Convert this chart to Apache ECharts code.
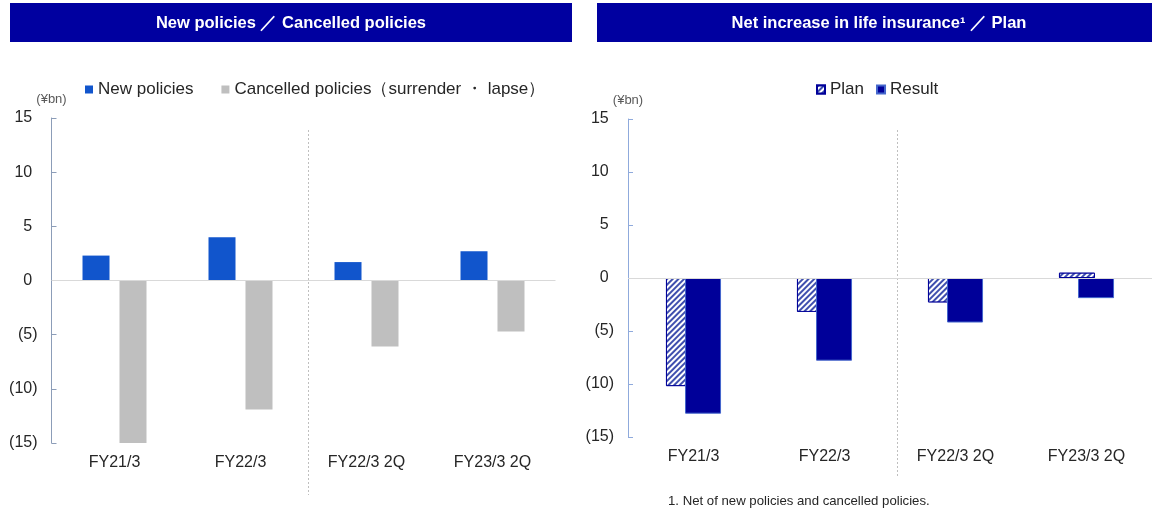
<!DOCTYPE html>
<html>
<head>
<meta charset="utf-8">
<title>New policies / Net increase in life insurance</title>
<script src="https://cdn.jsdelivr.net/npm/echarts@6/dist/echarts.min.js"></script>
<style>
  html, body { margin: 0; padding: 0; background: #ffffff; }
  #chart { width: 1152px; height: 510px; }
</style>
</head>
<body>
<div id="chart"></div>
<script>
// Fiscal periods shown on both panels
const categories = ['FY21/3', 'FY22/3', 'FY22/3 2Q', 'FY23/3 2Q'];

// Left panel (¥bn)
const newPolicies = [2.3, 4.0, 1.7, 2.7];
const cancelledPolicies = [-15.0, -11.9, -6.1, -4.7];

// Right panel (¥bn): net increase in life insurance vs plan
const planValues = [-10.2, -3.2, -2.3, 0.5];
const resultValues = [-12.8, -7.8, -4.2, -1.9];

// Value axis range and step
const yMin = -15;
const yMax = 15;
const yStep = 5;

const FONT = '"Liberation Sans", Arial, sans-serif';
const TEXT = '#262626';
const NAVY = '#000099';

const chart = echarts.init(document.getElementById('chart'), null, { renderer: 'canvas' });

// Accounting style: negatives in brackets, positives padded by an invisible ")"
const fmtAxis = v => (v < 0 ? '{n|(' + (-v) + ')}' : '{n|' + v + '}{pad|)}');

function valueAxis(gridIndex, axisColor) {
  return {
    type: 'value',
    gridIndex,
    min: yMin,
    max: yMax,
    interval: yStep,
    name: '(¥bn)',
    nameLocation: 'end',
    nameGap: 12,
    nameTextStyle: { color: '#595959', fontSize: 13, fontFamily: FONT, align: 'center' },
    axisLine: { show: true, lineStyle: { color: axisColor, width: 1 } },
    axisTick: { show: true, inside: true, length: 5, lineStyle: { color: axisColor } },
    splitLine: { show: false },
    axisLabel: {
      formatter: fmtAxis, margin: 14,
      rich: {
        n: { color: TEXT, fontSize: 16, fontFamily: FONT },
        pad: { color: 'rgba(0,0,0,0)', fontSize: 16, fontFamily: FONT }
      }
    }
  };
}

function categoryAxis(gridIndex) {
  return {
    type: 'category',
    gridIndex,
    data: categories,
    axisLine: { show: false },
    axisTick: { show: false },
    splitLine: { show: false },
    axisLabel: { color: TEXT, fontSize: 16, fontFamily: FONT, margin: 12, interval: 0 }
  };
}

// Light baseline at zero for each panel
const zeroLine = {
  silent: true,
  symbol: 'none',
  label: { show: false },
  lineStyle: { color: '#D9D9D9', type: 'solid', width: 1 },
  data: [{ yAxis: 0 }]
};

const hatch = {
  symbol: 'rect',
  symbolSize: 1,
  color: '#3F4FAE',
  backgroundColor: '#ffffff',
  dashArrayX: [1, 0],
  dashArrayY: [1.5, 2],
  rotation: -Math.PI / 4
};

function titleBar(id, x, width, cx, text) {
  return [
    { id: id + '-bg', type: 'rect', silent: true,
      shape: { x, y: 3, width, height: 39 },
      style: { fill: '#0000A0' } },
    { id: id + '-tx', type: 'text', silent: true,
      style: { text, x: cx, y: 23, align: 'center', verticalAlign: 'middle',
               fill: '#ffffff', font: 'bold 16.5px ' + FONT } }
  ];
}

chart.setOption({
  animation: false,
  backgroundColor: '#ffffff',
  textStyle: { fontFamily: FONT },
  grid: [
    { left: 51.5, right: 596.5, top: 118, bottom: 67 },
    { left: 628, right: -7, top: 119, bottom: 73 }
  ],
  xAxis: [categoryAxis(0), categoryAxis(1)],
  yAxis: [valueAxis(0, '#8C9DB8'), valueAxis(1, '#8FAADC')],
  legend: [
    {
      data: ['New policies', 'Cancelled policies（surrender ・ lapse）'],
      left: 80, top: 76,
      icon: 'rect', itemWidth: 8, itemHeight: 8, itemGap: 28,
      textStyle: { color: TEXT, fontSize: 17, fontFamily: FONT }
    },
    {
      data: ['Plan', 'Result'],
      left: 811, top: 76,
      icon: 'rect', itemWidth: 8, itemHeight: 8, itemGap: 12,
      textStyle: { color: TEXT, fontSize: 17, fontFamily: FONT }
    }
  ],
  series: [
    {
      name: 'New policies', type: 'bar', xAxisIndex: 0, yAxisIndex: 0,
      data: newPolicies, barWidth: 27, barGap: '37%',
      itemStyle: { color: '#1155CC' },
      markLine: zeroLine
    },
    {
      name: 'Cancelled policies（surrender ・ lapse）', type: 'bar', xAxisIndex: 0, yAxisIndex: 0,
      data: cancelledPolicies, barWidth: 27, barGap: '37%',
      itemStyle: { color: '#BFBFBF' }
    },
    {
      name: 'Plan', type: 'bar', xAxisIndex: 1, yAxisIndex: 1,
      data: planValues, barWidth: 36, barGap: '-47%',
      itemStyle: { color: '#ffffff', borderColor: NAVY, borderWidth: 1, decal: hatch },
      markLine: zeroLine
    },
    {
      name: 'Result', type: 'bar', xAxisIndex: 1, yAxisIndex: 1,
      data: resultValues, barWidth: 36, barGap: '-47%',
      itemStyle: { color: NAVY, borderColor: '#4466CC', borderWidth: 1 }
    }
  ],
  graphic: [
    ...titleBar('t1', 10, 562, 291, 'New policies ／ Cancelled policies'),
    ...titleBar('t2', 597, 570, 879, 'Net increase in life insurance¹ ／ Plan'),
    { id: 'note', type: 'text', silent: true,
      style: { text: '1. Net of new policies and cancelled policies.', x: 668, y: 501,
               verticalAlign: 'middle', fill: '#262626', font: '13.2px ' + FONT } }
  ]
});

// Dotted separator between the full-year and half-year periods
function separatorX(xAxisIndex, shift) {
  const a = chart.convertToPixel({ xAxisIndex }, categories[1]);
  const b = chart.convertToPixel({ xAxisIndex }, categories[2]);
  return Math.round((a + b) / 2 + shift) + 0.5;
}

const s1 = separatorX(0, 4);
const s2 = separatorX(1, 7);
chart.setOption({
  graphic: [
    { id: 'sep1', type: 'line', silent: true,
      shape: { x1: s1, y1: 130, x2: s1, y2: 495 },
      style: { stroke: '#BFBFBF', lineWidth: 1, lineDash: [2, 2] } },
    { id: 'sep2', type: 'line', silent: true,
      shape: { x1: s2, y1: 130, x2: s2, y2: 478 },
      style: { stroke: '#BFBFBF', lineWidth: 1, lineDash: [2, 2] } }
  ]
});
</script>
</body>
</html>
